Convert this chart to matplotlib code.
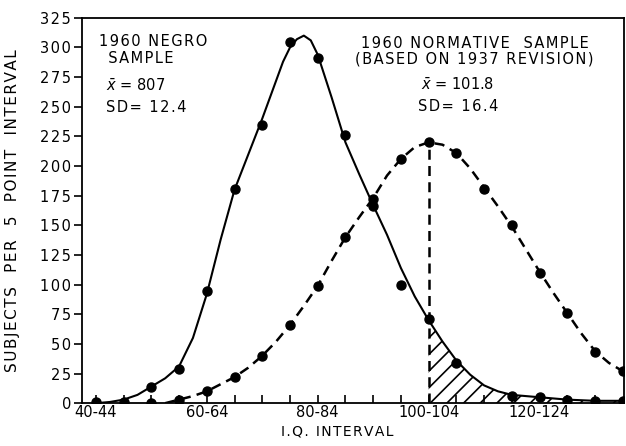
import numpy as np
import matplotlib
matplotlib.use('Agg')
import matplotlib.pyplot as plt

plt.rcParams['font.family'] = ['DejaVu Sans']
plt.rcParams['hatch.linewidth'] = 1.2

# interval index: 0 = 40-44, 1 = 45-49, ... 19 = 135-139
tick_labels = ['40-44', '60-64', '80-84', '100-104', '120-124']
tick_label_pos = [0, 4, 8, 12, 16]

# 1960 Negro sample: plotted dots
negro_x = [0, 1, 2, 3, 4, 5, 6, 7, 8, 9, 10, 11, 12, 13, 15, 16, 17, 18, 19]
negro_y = [1, 1, 14, 29, 95, 181, 235, 305, 291, 226, 166, 100, 71, 34, 6, 5, 3, 2, 2]
# fitted solid curve
negro_curve_x = [0, 0.5, 1, 1.5, 2, 2.5, 3, 3.5, 4, 4.5, 5, 5.5, 6, 6.5, 6.75, 7,
                 7.25, 7.5, 7.75, 8, 8.5, 9, 9.5, 10, 10.5, 11, 11.5, 12, 12.5, 13,
                 13.5, 14, 14.5, 15, 16, 17, 18, 19]
negro_curve_y = [0, 1, 3, 7, 14, 21, 31, 55, 92, 138, 180, 210, 240, 272, 288, 300,
                 307, 310, 306, 294, 258, 220, 193, 167, 142, 114, 90, 70, 52, 36,
                 24, 15, 10, 7, 5, 3, 2, 2]

# 1960 normative sample: plotted dots
norm_x = [2, 3, 4, 5, 6, 7, 8, 9, 10, 11, 12, 13, 14, 15, 16, 17, 18, 19]
norm_y = [0, 3, 10, 22, 40, 66, 99, 140, 172, 206, 220, 211, 181, 150, 110, 76, 43, 27]
norm_curve_x = [2.5, 3, 3.5, 4, 4.5, 5, 5.5, 6, 6.5, 7, 7.5, 8, 8.5, 9, 9.5, 10,
                10.5, 11, 11.5, 12, 12.5, 13, 13.5, 14, 14.5, 15, 15.5, 16, 16.5,
                17, 17.5, 18, 18.5, 19]
norm_curve_y = [0, 3, 6, 10, 16, 22, 30, 40, 52, 66, 82, 99, 120, 140, 157, 173,
                192, 206, 216, 220, 218, 211, 198, 182, 166, 149, 130, 111, 93,
                76, 59, 44, 34, 27]

mean_line_x = 12
mean_line_top = 220


def spaced(s, sep='\u200a'):
    # widen the lettering a little, like the hand-lettered original
    return sep.join(s)


fig = plt.figure(figsize=(6.26, 4.46), dpi=100)
ax = fig.add_axes([0.131, 0.096, 0.866, 0.864])

ax.plot(negro_curve_x, negro_curve_y, color='black', linewidth=1.5)
ax.plot(norm_curve_x, norm_curve_y, color='black', linewidth=1.8,
        linestyle=(0, (4, 2.5)))
ax.plot(negro_x, negro_y, 'o', color='black', markersize=6.5)
ax.plot(norm_x, norm_y, 'o', color='black', markersize=6.5)

# shaded tail of the Negro sample above the normative mean
hx = [x for x in negro_curve_x if x >= mean_line_x]
hy = [y for x, y in zip(negro_curve_x, negro_curve_y) if x >= mean_line_x]
ax.fill_between(hx, 0, hy, facecolor='none', edgecolor='black',
                hatch='//', linewidth=0)
ax.vlines(mean_line_x, 0, mean_line_top, color='black', linewidth=1.8,
          linestyle=(0, (4, 2.5)))

ax.set_xlim(-0.5, 19.05)
ax.set_ylim(0, 325)
ax.set_yticks(range(0, 326, 25))
ax.set_xticks(range(0, 19), minor=True)
ax.set_xticks(tick_label_pos)
ax.set_xticklabels(tick_labels, fontsize=10.5)
ax.set_yticklabels([spaced(str(v)) for v in range(0, 326, 25)])
ax.tick_params(axis='y', direction='out', length=6, width=1.2, labelsize=10.5, pad=2)
ax.tick_params(axis='x', which='both', direction='in', length=6, width=1.2, pad=1)
for s in ax.spines.values():
    s.set_linewidth(1.3)

ax.set_xlabel(spaced('I.Q. INTERVAL'), fontsize=10, labelpad=3)
ax.xaxis.set_label_coords(0.47, -0.055)
ax.set_ylabel(spaced('SUBJECTS  PER  5  POINT  INTERVAL'), fontsize=11)
ax.yaxis.set_label_coords(-0.115, 0.5)

ax.text(0.12, 311, spaced('1960 NEGRO') + '\n  ' + spaced('SAMPLE'), fontsize=10.5,
        va='top', ha='left', linespacing=1.1)
ax.text(0.35, 274, '$\\bar{x}$ = 807\n' + spaced('SD= 12.4'), fontsize=10.5,
        va='top', ha='left', linespacing=1.5)
ax.text(13.65, 310, spaced('1960 NORMATIVE  SAMPLE') + '\n' +
        spaced('(BASED ON 1937 REVISION)'), fontsize=10.5,
        va='top', ha='center', linespacing=1.1)
ax.text(13.05, 275, '$\\bar{x}$ = 101.8\n' + spaced('SD= 16.4'), fontsize=10.5,
        va='top', ha='center', linespacing=1.5)

fig.savefig('out.png', dpi=100)
